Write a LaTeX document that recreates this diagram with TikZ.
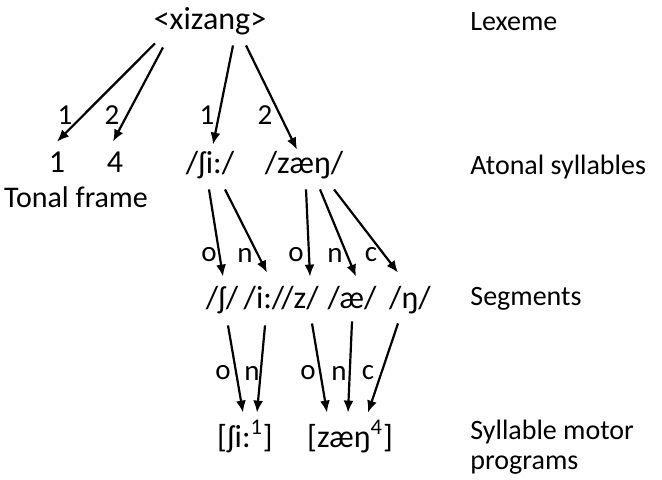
\documentclass[tikz,border=0pt]{standalone}
\usepackage{fontspec}
\setmainfont{Carlito}
\usepackage{tikz}
\usetikzlibrary{arrows.meta, calc}
\tikzstyle{arrow} = [line width=1.1pt, -{Latex[length=6pt, width=5pt]}]
\tikzstyle{unit} = [font=\fontsize{16}{18}\selectfont, inner sep=0.5pt, text height=10pt, text depth=3pt]
\tikzstyle{tag} = [font=\fontsize{14.5}{16}\selectfont, inner sep=0pt]
\tikzstyle{level} = [font=\fontsize{14}{15}\selectfont, anchor=west, align=left, inner sep=0pt]

\begin{document}
\begin{tikzpicture}[x=0.5pt, y=-0.5pt]
    \useasboundingbox (0,0) rectangle (662,479);

    % units
    \node[unit] (xizang) at (210,22) {<xizang>};
    \node[unit] (tone1) at (57,165) {1};
    \node[unit] (tone4) at (115,165) {4};
    \node[tag, font=\fontsize{15}{16}\selectfont] (frame) at (76,197) {Tonal frame};
    \node[unit] (shi) at (210,166) {/ʃi:/};
    \node[unit] (zaeng) at (304,166) {/zæŋ/};
    \node[unit] (sh) at (222,301) {/ʃ/};
    \node[unit] (ii) at (264,301) {/i:/};
    \node[unit] (z) at (300,301) {/z/};
    \node[unit] (ae) at (352,301) {/æ/};
    \node[unit] (ng) at (410,301) {/ŋ/};
    \node[unit] (shiT) at (245,440) {[ʃi:\textsuperscript{1}]};
    \node[unit] (zaengT) at (350,440) {[zæŋ\textsuperscript{4}]};

    % levels
    \node[level] (lexeme) at (470,22) {Lexeme};
    \node[level] (atonal) at (470,167) {Atonal syllables};
    \node[level] (segments) at (470,299) {Segments};
    \node[level] (motor) at (470,447) {Syllable motor\\programs};

    % lexeme to frame and syllables
    \draw[arrow] ($(xizang.south)+(-55,7)$) -- ($(tone1.north)+(0,-9)$);
    \draw[arrow] ($(xizang.south)+(-47,11)$) -- ($(tone4.north)+(-2,-9)$);
    \draw[arrow] ($(xizang.south)+(23,9)$) -- ($(shi.north)+(3,-7)$);
    \draw[arrow] ($(xizang.south)+(36,9)$) -- ($(zaeng.north)+(-7,-2)$);
    \node[tag] (n1a) at (65,115) {1};
    \node[tag] (n2a) at (112,115) {2};
    \node[tag] (n1b) at (207,115) {1};
    \node[tag] (n2b) at (265,115) {2};

    % syllables to segments
    \draw[arrow] ($(shi.south)+(-1,9)$) -- ($(sh.north)+(1,-10)$);
    \draw[arrow] ($(shi.south)+(15,9)$) -- ($(ii.north)+(3,-14)$);
    \draw[arrow] ($(zaeng.south)+(2,9)$) -- ($(z.north)+(10,-10)$);
    \draw[arrow] ($(zaeng.south)+(16,9)$) -- ($(ae.north)+(4,-10)$);
    \draw[arrow] ($(zaeng.south)+(30,9)$) -- ($(ng.north)+(-12,-14)$);
    \node[tag] (o1) at (209,255) {o};
    \node[tag] (n1) at (245,255) {n};
    \node[tag] (o2) at (296,255) {o};
    \node[tag] (n2) at (335,255) {n};
    \node[tag] (c2) at (371,255) {c};

    % segments to motor programs
    \draw[arrow] ($(sh.south)+(6,10)$) -- ($(shiT.north)+(-2,-13)$);
    \draw[arrow] ($(ii.south)+(1,10)$) -- ($(shiT.north)+(12,-13)$);
    \draw[arrow] ($(z.south)+(12,8)$) -- ($(zaengT.north)+(-23,-13)$);
    \draw[arrow] ($(ae.south)+(0,6)$) -- ($(zaengT.north)+(-2,-13)$);
    \draw[arrow] ($(ng.south)+(-12,8)$) -- ($(zaengT.north)+(18,-13)$);
    \node[tag] (o3) at (223,373) {o};
    \node[tag] (n3) at (252,373) {n};
    \node[tag] (o4) at (308,373) {o};
    \node[tag] (n4) at (339,373) {n};
    \node[tag] (c4) at (368,373) {c};
\end{tikzpicture}
\end{document}
